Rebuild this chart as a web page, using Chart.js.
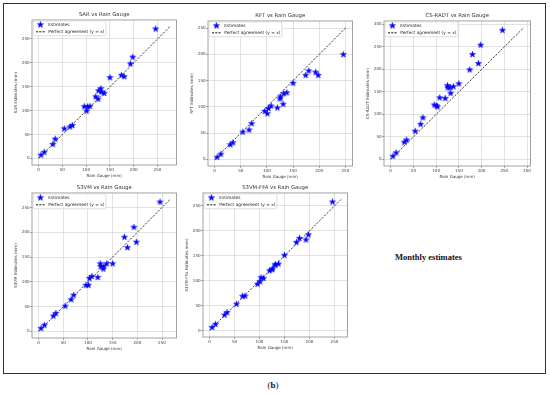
<!DOCTYPE html>
<html>
<head>
<meta charset="utf-8">
<script src="https://cdn.jsdelivr.net/npm/chart.js@4.4.0/dist/chart.umd.min.js"></script>
<style>
html, body { margin: 0; padding: 0; background: #fff; }
#page { position: relative; width: 550px; height: 393px; overflow: hidden; }
#frame { position: absolute; left: 3px; top: 3px; width: 543px; height: 371px; border: 1px solid #333; box-sizing: border-box; }
canvas { position: absolute; }
#note { position: absolute; left: 395px; top: 252px; font: bold 8.5px 'Liberation Serif', serif; color: #111; white-space: nowrap; }
#cap { position: absolute; left: 0; width: 546px; top: 380px; text-align: center; font: 9px 'Liberation Serif', serif; color: #111; }
</style>
</head>
<body>
<div id="page">
  <div id="frame"></div>
  <canvas id="c0"></canvas>
  <canvas id="c1"></canvas>
  <canvas id="c2"></canvas>
  <canvas id="c3"></canvas>
  <canvas id="c4"></canvas>
  <div id="note">Monthly estimates</div>
  <div id="cap">(<b>b</b>)</div>
</div>
<script>
// rain gauge values (mm), shared by every panel
const gauge = [5, 12, 30, 35, 54, 66, 71, 96, 101, 103, 108, 120, 125, 126, 131, 132, 138, 150, 174, 180, 193, 198, 246];

const sarEst  = [7, 13, 29.5, 40.5, 62, 66, 69, 108.5, 99, 108, 109, 129, 124, 141.5, 146, 139, 136, 169, 174, 171, 198, 212, 271];
const rftEst  = [4, 10, 28, 31.6, 52, 56, 68, 91.5, 87, 97, 101.6, 98, 115, 119, 105, 125, 127, 145, 160, 168.5, 166, 160, 199.5];
const csEst   = [7, 14.6, 38, 43, 62.6, 78, 92.5, 121, 119, 117, 137, 135.5, 164, 159, 159.5, 147, 161.7, 168, 199, 233, 213, 254, 287];
const s3vmEst = [6, 12.6, 31, 36.5, 51, 64, 73, 93, 93, 107, 111, 109, 136.6, 131, 126, 131, 136.6, 136.6, 190, 169, 210, 180, 261];
const ffaEst  = [6, 12.4, 31, 36, 53, 68.7, 69, 93, 98, 106, 104.7, 120, 122, 123.7, 132, 131.5, 133.5, 151, 177, 185, 182, 192, 258];

const titles = ['SAR vs Rain Gauge', 'RFT vs Rain Gauge', 'CS-RADT vs Rain Gauge', 'S3VM vs Rain Gauge', 'S3VM-FFA vs Rain Gauge'];
const yLabels = ['SAR Estimates (mm)', 'RFT Estimates (mm)', 'CS-RADT Estimates (mm)', 'S3VM Estimates (mm)', 'S3VM-FFA Estimates (mm)'];
const series = [sarEst, rftEst, csEst, s3vmEst, ffaEst];
const lineEnd = [276, 251, 293, 266, 263];
const axisMin = [-13.8, -12.55, -14.65, -13.3, -13.15];
const axisMax = [289.8, 263.55, 307.65, 279.3, 276.15];
const ticks250 = [0, 50, 100, 150, 200, 250];
const ticks300 = [0, 50, 100, 150, 200, 250, 300];
const tickSets = [ticks250, ticks250, ticks300, ticks250, ticks250];

// where each canvas sits on the page
const boxes = [
  { left: 12, top: 8, w: 169, h: 171 },
  { left: 188, top: 9, w: 169, h: 171 },
  { left: 364, top: 9, w: 171, h: 171 },
  { left: 12, top: 181, w: 169, h: 171 },
  { left: 183, top: 181, w: 169, h: 170 }
];

const FONT = "'DejaVu Sans', sans-serif";

function starImg(r) {
  const c = document.createElement('canvas');
  const s = Math.ceil(r * 2) + 2;
  c.width = c.height = s;
  const g = c.getContext('2d');
  g.translate(s / 2, s / 2);
  g.beginPath();
  for (let i = 0; i < 10; i++) {
    const a = -Math.PI / 2 + i * Math.PI / 5;
    const rr = i % 2 ? r * 0.4 : r;
    g.lineTo(Math.cos(a) * rr, Math.sin(a) * rr);
  }
  g.closePath();
  g.fillStyle = '#0000ff';
  g.fill();
  g.strokeStyle = '#0000ff';
  g.lineWidth = 0.5;
  g.stroke();
  return c;
}

function dashImg() {
  const c = document.createElement('canvas');
  c.width = 9; c.height = 3;
  const g = c.getContext('2d');
  g.strokeStyle = '#000';
  g.lineWidth = 0.9;
  g.setLineDash([2, 1.3]);
  g.beginPath();
  g.moveTo(0, 1.5);
  g.lineTo(9, 1.5);
  g.stroke();
  return c;
}

const star = starImg(3.2);
const dash = dashImg();

const frameBox = {
  id: 'frameBox',
  // legend in 'chartArea' mode gets top = 0, move it into the plot box
  afterUpdate(chart) {
    const lg = chart.legend;
    if (!lg) return;
    const dy = chart.chartArea.top - lg.top;
    lg.top += dy;
    lg.bottom += dy;
    (lg.legendHitBoxes || []).forEach(h => { h.top += dy; });
  },
  beforeDatasetsDraw(chart) {
    const { ctx, chartArea: a } = chart;
    ctx.save();
    ctx.strokeStyle = '#999';
    ctx.lineWidth = 0.9;
    ctx.strokeRect(a.left, a.top, a.right - a.left, a.bottom - a.top);
    ctx.restore();
  },
  afterDatasetsDraw(chart) {
    const lg = chart.legend;
    if (!lg || !lg.legendHitBoxes || !lg.legendHitBoxes.length) return;
    const hb = lg.legendHitBoxes;
    const l = Math.min(...hb.map(h => h.left)) - 1.6;
    const t = hb[0].top - 1.8;
    const r = Math.max(...hb.map(h => h.left + h.width)) + 1.6;
    const b = hb[hb.length - 1].top + hb[hb.length - 1].height + 1.8;
    const ctx = chart.ctx;
    ctx.save();
    ctx.beginPath();
    ctx.roundRect(l, t, r - l, b - t, 1.5);
    ctx.fillStyle = 'rgba(255,255,255,0.85)';
    ctx.fill();
    ctx.strokeStyle = '#d0d0d0';
    ctx.lineWidth = 0.7;
    ctx.stroke();
    ctx.restore();
    lg.draw();
  }
};

function axis(i, isX) {
  return {
    type: 'linear',
    min: axisMin[i],
    max: axisMax[i],
    afterBuildTicks: s => { s.ticks = tickSets[i].map(v => ({ value: v })); },
    afterFit: s => { if (isX) s.height = 14; else s.width = 20; },
    grid: { color: '#dadada', lineWidth: 0.8, tickLength: 1.8, tickColor: '#555', tickWidth: 0.6 },
    border: { display: false },
    ticks: { color: '#444', font: { family: FONT, size: 4.1 }, padding: 0.6, maxRotation: 0, autoSkip: false },
    title: {
      display: true,
      text: isX ? 'Rain Gauge (mm)' : yLabels[i],
      color: '#333',
      font: { family: FONT, size: 4.0, lineHeight: 1.2 },
      padding: isX ? { top: 0, bottom: 0.9 } : { top: 1.6, bottom: 0 }
    }
  };
}

series.forEach((est, i) => {
  const cv = document.getElementById('c' + i);
  const bx = boxes[i];
  cv.width = bx.w; cv.height = bx.h;
  cv.style.left = bx.left + 'px';
  cv.style.top = bx.top + 'px';
  cv.style.width = bx.w + 'px';
  cv.style.height = bx.h + 'px';
  new Chart(cv, {
    type: 'scatter',
    data: {
      datasets: [{
        label: 'Estimates',
        data: gauge.map((x, j) => ({ x, y: est[j] })),
        pointStyle: star,
        pointRadius: 3.5,
        pointHoverRadius: 3.5
      }, {
        label: 'Perfect agreement (y = x)',
        data: [{ x: 0, y: 0 }, { x: lineEnd[i], y: lineEnd[i] }],
        showLine: true,
        borderColor: 'rgba(0,0,0,0.85)',
        borderWidth: 0.9,
        borderDash: [2.2, 1.4],
        pointRadius: 0,
        pointHoverRadius: 0,
        pointStyle: dash,
        fill: false
      }]
    },
    options: {
      responsive: false,
      animation: false,
      devicePixelRatio: 1,
      layout: { padding: { top: 3.4, right: 4, left: 0, bottom: 0 } },
      plugins: {
        title: {
          display: true,
          fullSize: false,
          text: titles[i],
          color: '#333',
          font: { family: FONT, size: 5.3, weight: 'normal', lineHeight: 1.2 },
          padding: { top: 0.2, bottom: 2 }
        },
        legend: {
          position: 'chartArea',
          align: 'start',
          labels: {
            usePointStyle: true,
            pointStyleWidth: 11.4,
            boxHeight: 4.4,
            padding: 2.7,
            color: '#333',
            font: { family: FONT, size: 4.3 }
          }
        },
        tooltip: { enabled: false }
      },
      scales: { x: axis(i, true), y: axis(i, false) }
    },
    plugins: [frameBox]
  });
});
</script>
</body>
</html>
